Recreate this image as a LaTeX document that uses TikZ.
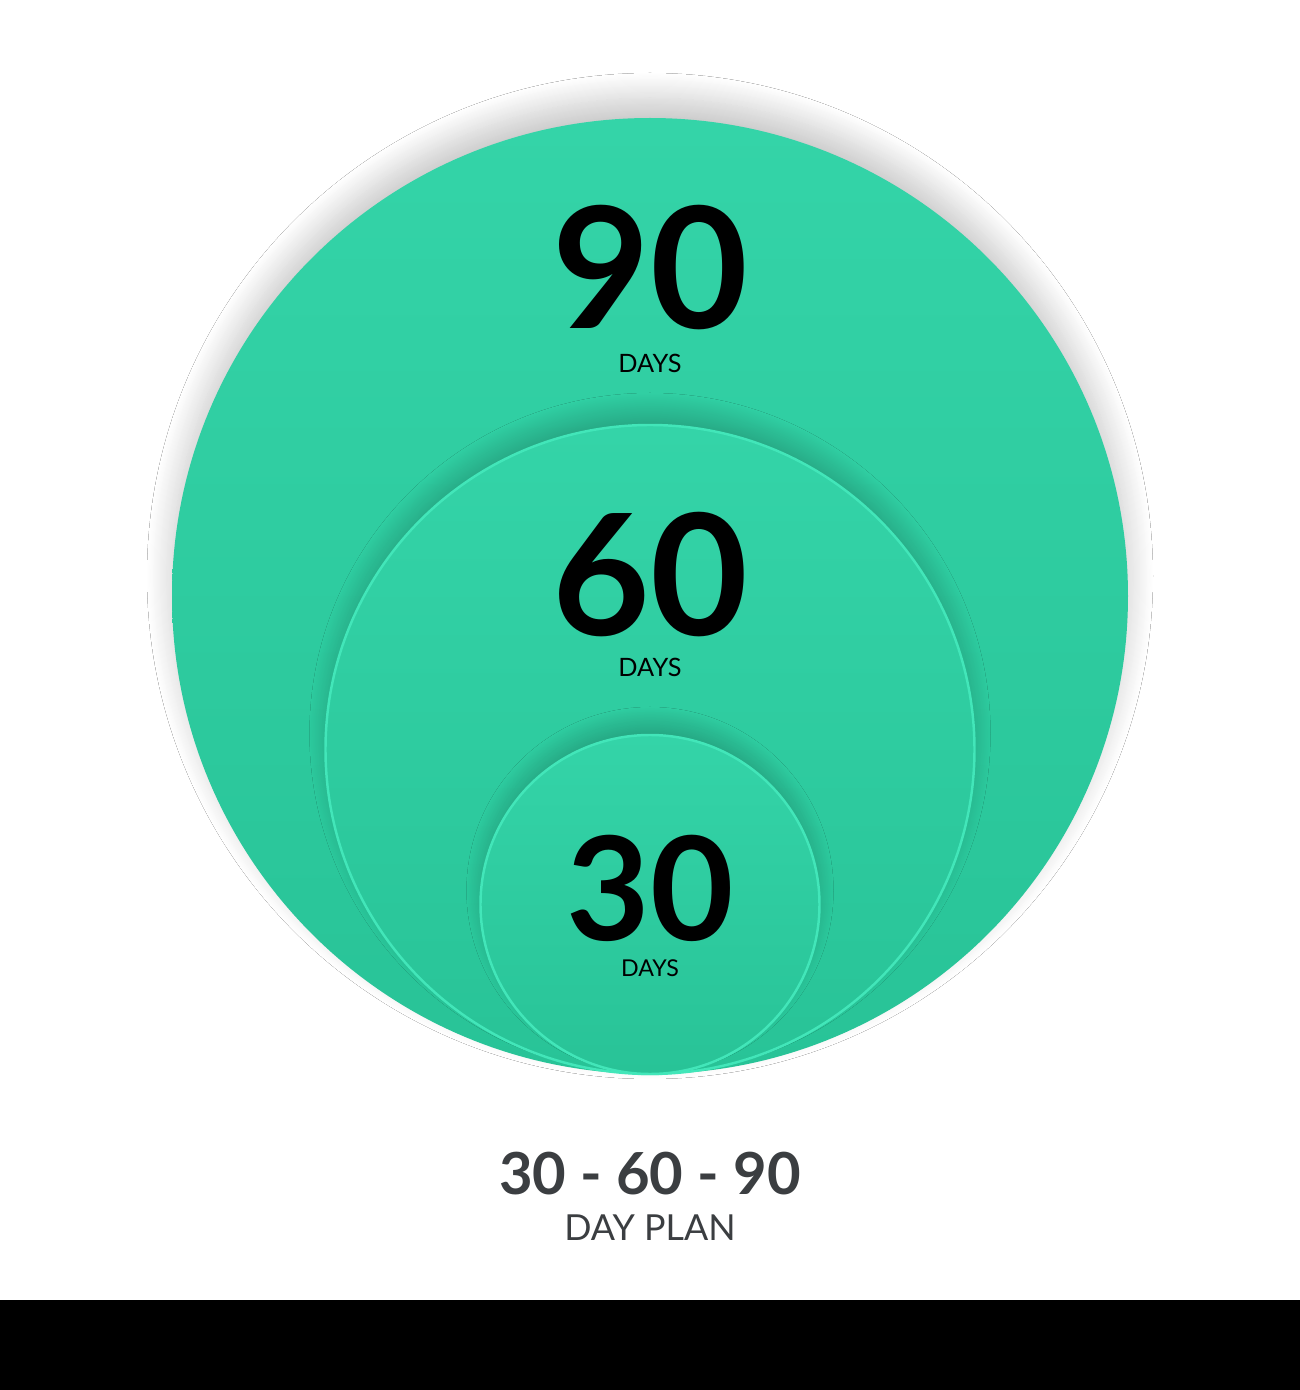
\documentclass[tikz,border=0pt]{standalone}
\usepackage{fontspec}
\setmainfont{Lato}
\usetikzlibrary{shadows.blur}
\definecolor{mintTop}{HTML}{34D4A8}
\definecolor{mintBottom}{HTML}{28C397}
\definecolor{mintEdge}{HTML}{42E6B9}
\definecolor{planGray}{HTML}{3B3E41}
\begin{document}
\begin{tikzpicture}[
  disc/.style={top color=mintTop, bottom color=mintBottom, draw=mintEdge, line width=0.7pt},
  discshadow/.style={blur shadow={shadow xshift=0cm, shadow yshift=#1, shadow blur radius=#1, shadow blur steps=24, shadow opacity=18}},
  bignum/.style={inner sep=0pt, font=\bfseries\fontsize{#1}{#1}\selectfont},
  dayslabel/.style={inner sep=0pt, font=\fontsize{#1}{#1}\selectfont},
]
% Set the page frame
\useasboundingbox (0, 0) rectangle (13, 13.9);
\fill[white] (0, 0.9) rectangle (13, 13.9);
\fill[black] (0, 0) rectangle (13, 0.9);

% Draw the three discs, all resting on the same bottom point
\path[disc, draw=none, blur shadow={shadow xshift=0cm, shadow yshift=0.2cm, shadow blur radius=0.25cm, shadow blur steps=24, shadow opacity=22}] (6.5, 7.94) circle (4.78);
\path[disc, discshadow=0.16cm] (6.5, 6.405) circle (3.245);
\path[disc, discshadow=0.14cm] (6.5, 4.855) circle (1.695);

% Insert the numbers
\node[bignum=48] (ninety) at (6.5, 11.22) {90};
\node[dayslabel=7.2] (ninetydays) at (6.5, 10.27) {DAYS};
\node[bignum=48] (sixty) at (6.5, 8.15) {60};
\node[dayslabel=7.2] (sixtydays) at (6.5, 7.23) {DAYS};
\node[bignum=41] (thirty) at (6.5, 5.02) {30};
\node[dayslabel=6.6] (thirtydays) at (6.5, 4.22) {DAYS};

% Caption under the discs
\node[bignum=16.5, text=planGray] (plan) at (6.5, 2.16) {30 - 60 - 90};
\node[dayslabel=10.2, text=planGray] (plansub) at (6.5, 1.62) {DAY PLAN};
\end{tikzpicture}
\end{document}
